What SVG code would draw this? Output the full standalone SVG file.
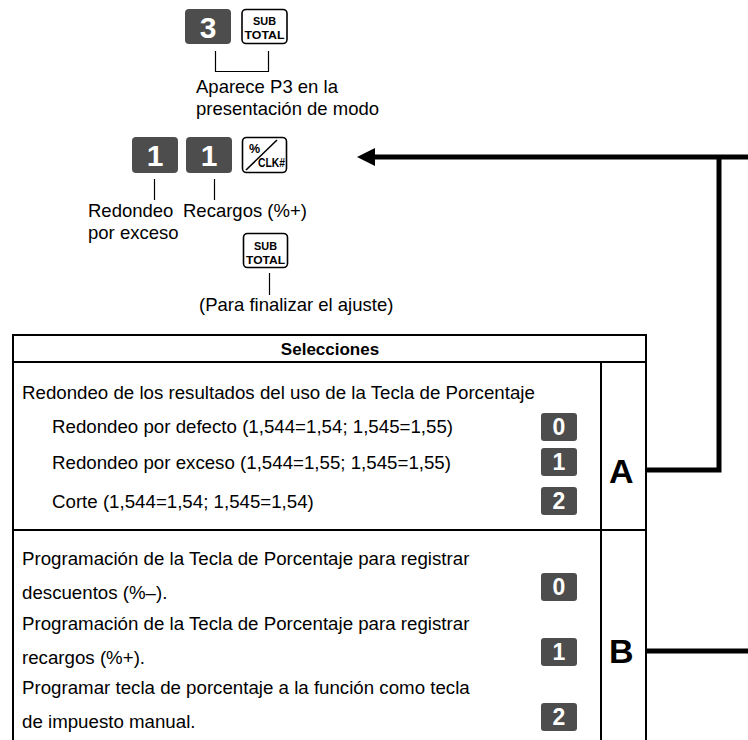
<svg xmlns="http://www.w3.org/2000/svg" width="748" height="740" viewBox="0 0 748 740">
<style>
text{font-family:"Liberation Sans",Arial,Helvetica,sans-serif;fill:#000}
.t{font-size:18.5px}
.tt{font-size:18.7px}
.kd{fill:#4d4d4d}
.kdt{font-size:30px;font-weight:bold;fill:#fff;text-anchor:middle}
.kst{font-size:23px;font-weight:bold;fill:#fff;text-anchor:middle}
.kw{fill:#fff;stroke:#000;stroke-width:1.6}
.kwt{font-size:11px;font-weight:bold;text-anchor:middle}
.thin{stroke:#000;stroke-width:1.2;fill:none}
.tb{stroke:#000;stroke-width:2;fill:none}
.conn{stroke:#000;stroke-width:5;fill:none;stroke-linejoin:miter}
.big{font-size:34px;font-weight:bold}
</style>
<defs>
<marker id="ah" markerUnits="userSpaceOnUse" markerWidth="20" markerHeight="20" refX="0" refY="9" orient="auto"><path d="M0,0 L18,9 L0,18 z" fill="#000"/></marker>
</defs>

<g id="step1">
  <rect class="kd" x="185" y="9" width="46" height="35" rx="4"/>
  <text class="kdt" x="208" y="37.5">3</text>
  <rect class="kw" x="242" y="9.5" width="45" height="34" rx="4"/>
  <text class="kwt" x="264.5" y="25" textLength="23" lengthAdjust="spacingAndGlyphs">SUB</text>
  <text class="kwt" x="264.5" y="38.5" textLength="40" lengthAdjust="spacingAndGlyphs">TOTAL</text>
  <path class="thin" d="M215.5,51 V71.5 H268.5 V51"/>
  <text class="t" x="196" y="93">Aparece P3 en la</text>
  <text class="t" x="196" y="115">presentación de modo</text>
</g>

<g id="step2">
  <rect class="kd" x="132" y="137" width="46" height="36" rx="4"/>
  <text class="kdt" x="155" y="166">1</text>
  <rect class="kd" x="186" y="137" width="46" height="36" rx="4"/>
  <text class="kdt" x="209" y="166">1</text>
  <rect class="kw" x="242.5" y="137.5" width="44" height="35" rx="4"/>
  <text x="249" y="153" style="font-size:12.5px;font-weight:bold">%</text>
  <line x1="246" y1="170" x2="277" y2="140" stroke="#000" stroke-width="1.6"/>
  <text x="258" y="167" style="font-size:12.5px;font-weight:bold" textLength="27" lengthAdjust="spacingAndGlyphs">CLK#</text>
  <line class="thin" x1="154.5" y1="179" x2="154.5" y2="200"/>
  <line class="thin" x1="214.5" y1="179" x2="214.5" y2="200"/>
  <text class="t" x="88" y="217">Redondeo</text>
  <text class="t" x="88" y="239">por exceso</text>
  <text class="t" x="183" y="217">Recargos (%+)</text>
</g>

<g id="step3">
  <rect class="kw" x="243.5" y="233.5" width="44" height="34" rx="4"/>
  <text class="kwt" x="265.5" y="250" textLength="23" lengthAdjust="spacingAndGlyphs">SUB</text>
  <text class="kwt" x="265.5" y="263.5" textLength="39" lengthAdjust="spacingAndGlyphs">TOTAL</text>
  <line class="thin" x1="269.5" y1="273" x2="269.5" y2="295"/>
  <text class="t" x="199" y="311">(Para finalizar el ajuste)</text>
</g>

<g id="table">
  <path class="tb" d="M13,742 V335 H646 V742"/>
  <line class="tb" x1="13" y1="362" x2="646" y2="362"/>
  <line class="tb" x1="601" y1="362" x2="601" y2="742"/>
  <line class="tb" x1="13" y1="530" x2="646" y2="530"/>
  <text x="330" y="355" style="font-size:17px;font-weight:bold;text-anchor:middle">Selecciones</text>
</g>

<g id="sectionA">
  <text class="tt" x="22" y="399">Redondeo de los resultados del uso de la Tecla de Porcentaje</text>
  <text class="tt" x="52" y="433">Redondeo por defecto (1,544=1,54; 1,545=1,55)</text>
  <text class="tt" x="52" y="469">Redondeo por exceso (1,544=1,55; 1,545=1,55)</text>
  <text class="tt" x="52" y="508">Corte (1,544=1,54; 1,545=1,54)</text>
  <rect class="kd" x="541" y="413" width="36" height="28" rx="3"/>
  <text class="kst" x="559" y="435">0</text>
  <rect class="kd" x="541" y="448" width="36" height="28" rx="3"/>
  <text class="kst" x="559" y="470">1</text>
  <rect class="kd" x="541" y="487" width="36" height="28" rx="3"/>
  <text class="kst" x="559" y="509">2</text>
  <text class="big" x="609" y="483">A</text>
</g>

<g id="sectionB">
  <text class="tt" x="22" y="565">Programación de la Tecla de Porcentaje para registrar</text>
  <text class="tt" x="22" y="599">descuentos (%–).</text>
  <text class="tt" x="22" y="630">Programación de la Tecla de Porcentaje para registrar</text>
  <text class="tt" x="22" y="664">recargos (%+).</text>
  <text class="tt" x="22" y="694">Programar tecla de porcentaje a la función como tecla</text>
  <text class="tt" x="22" y="728">de impuesto manual.</text>
  <rect class="kd" x="541" y="573" width="36" height="28" rx="3"/>
  <text class="kst" x="559" y="595">0</text>
  <rect class="kd" x="541" y="638" width="36" height="28" rx="3"/>
  <text class="kst" x="559" y="660">1</text>
  <rect class="kd" x="541" y="703" width="36" height="28" rx="3"/>
  <text class="kst" x="559" y="725">2</text>
  <text class="big" x="609" y="663">B</text>
</g>

<g id="connectors">
  <path class="conn" d="M748,157 H375" marker-end="url(#ah)"/>
  <path class="conn" d="M719,157 V470 H647"/>
  <path class="conn" d="M748,651 H647"/>
</g>
</svg>
